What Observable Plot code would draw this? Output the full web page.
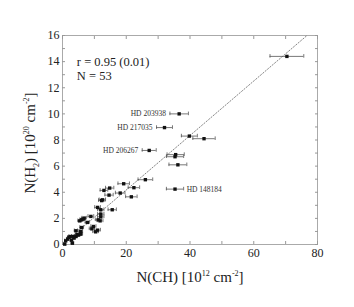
<!DOCTYPE html>
<html><head><meta charset="utf-8">
<script src="https://cdn.jsdelivr.net/npm/d3@7"></script>
<script src="https://cdn.jsdelivr.net/npm/@observablehq/plot@0.6"></script>
<style>body{margin:0;background:#fff}</style>
</head><body><div id="c"></div>
<script>
const chX = [70.4,36.6,32.0,39.8,44.4,27.2,35.5,35.3,36.2,26.0,19.2,22.4,14.8,13.0,14.6,18.1,21.6,35.3,12.5,12.3,15.6,11.0,12.0,12.0,12.0,8.9,11.2,11.8,6.8,6.0,5.4,7.8,9.7,11.0,10.4,6.0,5.7,4.2,5.0,4.2,3.3,2.4,2.8,1.6,1.0,0.7,3.1,5.7,3.6,6.5,4.6,2.0,9.2];
const h2Y = [14.4,10.0,8.95,8.3,8.1,7.2,6.88,6.72,6.1,4.96,4.65,4.35,4.32,4.14,3.78,3.94,3.65,4.24,3.42,3.36,2.66,2.84,2.66,2.33,2.12,2.15,1.89,1.81,2.02,1.89,1.81,1.69,1.38,1.10,0.97,1.30,1.0,1.05,0.72,0.61,0.61,0.61,0.33,0.41,0.28,0.03,0.1,0.79,0.49,1.95,0.75,0.55,1.2];
const chErr = [5.3,2.9,2.5,2.5,3.5,2.2,2.7,2.7,2.8,2.3,1.8,1.8,1.3,1.2,1.3,1.5,1.8,2.7,1.0,1.0,1.3,0.9,1.0,1.0,1.0,0.9,0.9,0.9,0.7,0.6,0.6,0.7,0.8,0.9,0.9,0.6,0.6,0.5,0.5,0.5,0.4,0.4,0.4,0.3,0.3,0.3,0.4,0.6,0.4,0.6,0.5,0.3,0.8];
const starNames = ["HD 203938","HD 217035","HD 206267","HD 148184"];
const starIdx = [1,2,5,17];
const starSide = ["left","left","left","right"];
const fitSlope = 0.2086;
const fitX = [0, 76.7];
const statsText = ["r = 0.95 (0.01)","N = 53"];
const statsX = [4.5, 4.5];
const statsY = [14.0, 12.9];
const xTicks = [0,20,40,60,80];
const yTicks = [0,2,4,6,8,10,12,14,16];

const pts = chX.map((x,i)=>({x, y:h2Y[i], e:chErr[i]}));
const stars = starNames.map((n,i)=>({name:n, ...pts[starIdx[i]], side:starSide[i]}));
const fit = fitX.map(x=>({x, y:x*fitSlope}));
const stats = statsText.map((t,i)=>({t, x:statsX[i], y:statsY[i]}));

const serif = "Liberation Serif, Times New Roman, serif";
const grey = "#999";
const plot = Plot.plot({
  width: 354, height: 307,
  marginLeft: 62, marginRight: 37, marginTop: 35, marginBottom: 63,
  style: {fontFamily: serif, fontSize: "12px", color: "#222", background: "#fff"},
  x: {domain: [0,80]},
  y: {domain: [0,16]},
  marks: [
    Plot.frame({stroke: "#aaa"}),
    Plot.axisX(d3.range(0,81,10), {anchor:"bottom", tickSize:-3, text:null, label:null, stroke: grey}),
    Plot.axisX(d3.range(0,81,10), {anchor:"top", tickSize:-3, text:null, label:null, stroke: grey}),
    Plot.axisY(d3.range(0,17,1), {anchor:"left", tickSize:-3, text:null, label:null, stroke: grey}),
    Plot.axisY(d3.range(0,17,1), {anchor:"right", tickSize:-3, text:null, label:null, stroke: grey}),
    Plot.axisX(xTicks, {anchor:"bottom", tickSize:0, tickPadding:4, label:null, fontSize: 12}),
    Plot.axisY(yTicks, {anchor:"left", tickSize:0, tickPadding:3, label:null, fontSize: 12}),
    Plot.line(fit, {x:"x", y:"y", stroke:"#777", strokeWidth:0.9, strokeDasharray:"1.3,1.8"}),
    Plot.ruleY(pts, {x1: d=>d.x-d.e, x2: d=>d.x+d.e, y:"y", stroke:"#555", strokeWidth:0.8}),
    Plot.ruleX(pts, {x: d=>d.x-d.e, y1:"y", y2:"y", insetTop:-1.8, insetBottom:-1.8, stroke:"#555", strokeWidth:0.8}),
    Plot.ruleX(pts, {x: d=>d.x+d.e, y1:"y", y2:"y", insetTop:-1.8, insetBottom:-1.8, stroke:"#555", strokeWidth:0.8}),
    Plot.dot(pts, {x:"x", y:"y", symbol:"square", r:1.9, fill:"#111", stroke:"none"}),
    Plot.text(stars.filter(d=>d.side==="left"), {x: d=>d.x-d.e, y:"y", text:"name", textAnchor:"end", dx:-4, fontSize:7.5, fill:"#333"}),
    Plot.text(stars.filter(d=>d.side==="right"), {x: d=>d.x+d.e, y:"y", text:"name", textAnchor:"start", dx:3, fontSize:7.5, fill:"#333"}),
    Plot.text(stats, {x:"x", y:"y", text:"t", textAnchor:"start", fontSize:12.5, fill:"#222"})
  ]
});
document.getElementById("c").appendChild(plot);

const svg = d3.select(plot);
const xl = svg.append("text").attr("x", 190).attr("y", 282).attr("text-anchor","middle")
  .attr("font-family", serif).attr("font-size", 15).attr("fill","#222");
xl.append("tspan").text("N(CH) [10");
xl.append("tspan").attr("dy",-6).attr("font-size",8).text("12");
xl.append("tspan").attr("dy",6).text(" cm");
xl.append("tspan").attr("dy",-6).attr("font-size",8).text("-2");
xl.append("tspan").attr("dy",6).text("]");

const yl = svg.append("text").attr("transform","translate(35,143) rotate(-90)").attr("text-anchor","middle")
  .attr("font-family", serif).attr("font-size", 15).attr("fill","#222");
yl.append("tspan").text("N(H");
yl.append("tspan").attr("dy",4).attr("font-size",8).text("2");
yl.append("tspan").attr("dy",-4).text(") [10");
yl.append("tspan").attr("dy",-6).attr("font-size",8).text("20");
yl.append("tspan").attr("dy",6).text(" cm");
yl.append("tspan").attr("dy",-6).attr("font-size",8).text("-2");
yl.append("tspan").attr("dy",6).text("]");
</script></body></html>
